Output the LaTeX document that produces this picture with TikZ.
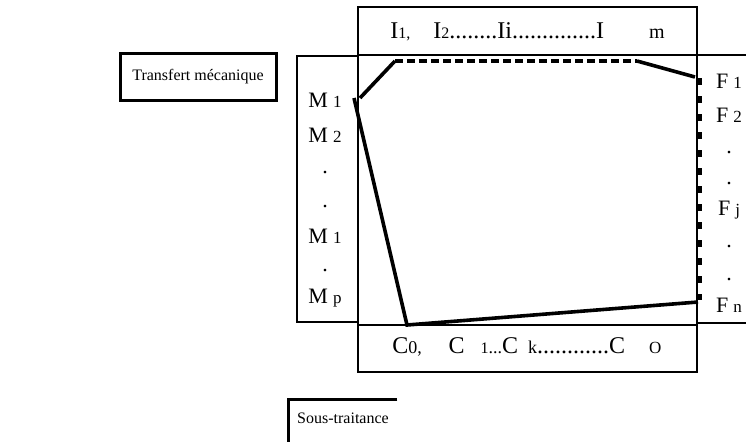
\documentclass[tikz,border=0pt]{standalone}
\usepackage{fontspec}
\setmainfont{Liberation Serif}
\usepackage{xcolor}
\usepackage{tikz}
\usetikzlibrary{positioning}
\newcommand{\fsz}[1]{\fontsize{#1}{#1}\selectfont}
\newcommand{\smidx}[1]{{\fsz{8.5}#1}}
\tikzset{
  box/.style={draw=black, line width=1.1pt, inner sep=0pt},
  boxthick/.style={draw=black, line width=1.5pt, inner sep=0pt},
  route/.style={draw=black, line width=1.8pt, line cap=butt, line join=miter},
  routedash/.style={route, dash pattern=on 4pt off 2pt},
  routeside/.style={draw=black, line width=2.5pt, dash pattern=on 3.5pt off 5.5pt},
  lab/.style={inner sep=0pt, anchor=base, font=\fsz{11}},
  labw/.style={inner sep=0pt, anchor=base west},
}

\begin{document}
\begin{tikzpicture}[x=0.5pt,y=-0.5pt]
  \useasboundingbox (0,0) rectangle (746,441);
  \clip (0,0) rectangle (746,441);
  % boxes
  \node[box, minimum width=169.5pt, minimum height=24pt] (ibox) at (527.5,31) {};
  \node[box, minimum width=169.5pt, minimum height=135pt] (zone) at (527.5,190) {};
  \node[box, minimum width=30.5pt, minimum height=133pt] (mbox) at (327.5,189) {};
  \node[box, minimum width=36.5pt, minimum height=134pt] (fbox) at (733.5,189) {};
  \node[box, minimum width=169.5pt, minimum height=23.5pt] (cbox) at (527.5,348.5) {};
  \node[boxthick, minimum width=78pt, minimum height=23.5pt, font=\fsz{8}] (transfert) at (198,76.5) {Transfert mécanique};
  \node[minimum width=54pt, minimum height=18pt, inner sep=0pt, font=\fsz{8}] (sous) at (343,418) {Sous-traitance};
  \draw[boxthick] (sous.north east) -- (sous.north west) -- ++(0,50);
  % route
  \coordinate (r1) at (360,98);
  \coordinate (r2) at (395,61);
  \coordinate (r3) at (637,61);
  \coordinate (r4) at (695,77);
  \coordinate (r5) at (699.5,78);
  \coordinate (r6) at (699.5,300);
  \coordinate (r7) at (698,302);
  \coordinate (r8) at (407,325);
  \coordinate (r9) at (354,98);
  \draw[route] (r1) -- (r2);
  \draw[routedash] (r2) -- (r3);
  \draw[route] (r3) -- (r4);
  \draw[routeside] (r5) -- (r6);
  \draw[route] (r7) -- (r8) -- (r9);
  % labels
  \node[labw, font=\fsz{12}] (ilab) at (390,38) {I{\fsz{8}1,}\hspace{11.5pt}I{\fsz{8}2}........Ii..............I\hspace{22.5pt}{\fsz{10}m}};
  \node[labw, font=\fsz{12}] (clab) at (392,353) {C{\fsz{9}0,}\hspace{13.3pt}C\hspace{8pt}{\fsz{8}1}{\fsz{9}...}C\hspace{5pt}{\fsz{9}k}............C\hspace{12pt}{\fsz{8.5}O}};
  \foreach \t/\y [count=\i] in {M\hspace{2.5pt}\smidx{1}/107, M\hspace{2.5pt}\smidx{2}/142, ./173, ./207, M\hspace{2.5pt}\smidx{1}/243, ./271, M\hspace{2.5pt}\smidx{p}/303}
    \node[lab] (m\i) at (325,\y) {\t};
  \foreach \t/\y [count=\i] in {F\hspace{2.5pt}\smidx{1}/88, F\hspace{2.5pt}\smidx{2}/122, ./153, ./184, F\hspace{2.5pt}\smidx{j}/215, ./247, ./280, F\hspace{2.5pt}\smidx{n}/312}
    \node[lab] (f\i) at (729,\y) {\t};
\end{tikzpicture}
\end{document}
